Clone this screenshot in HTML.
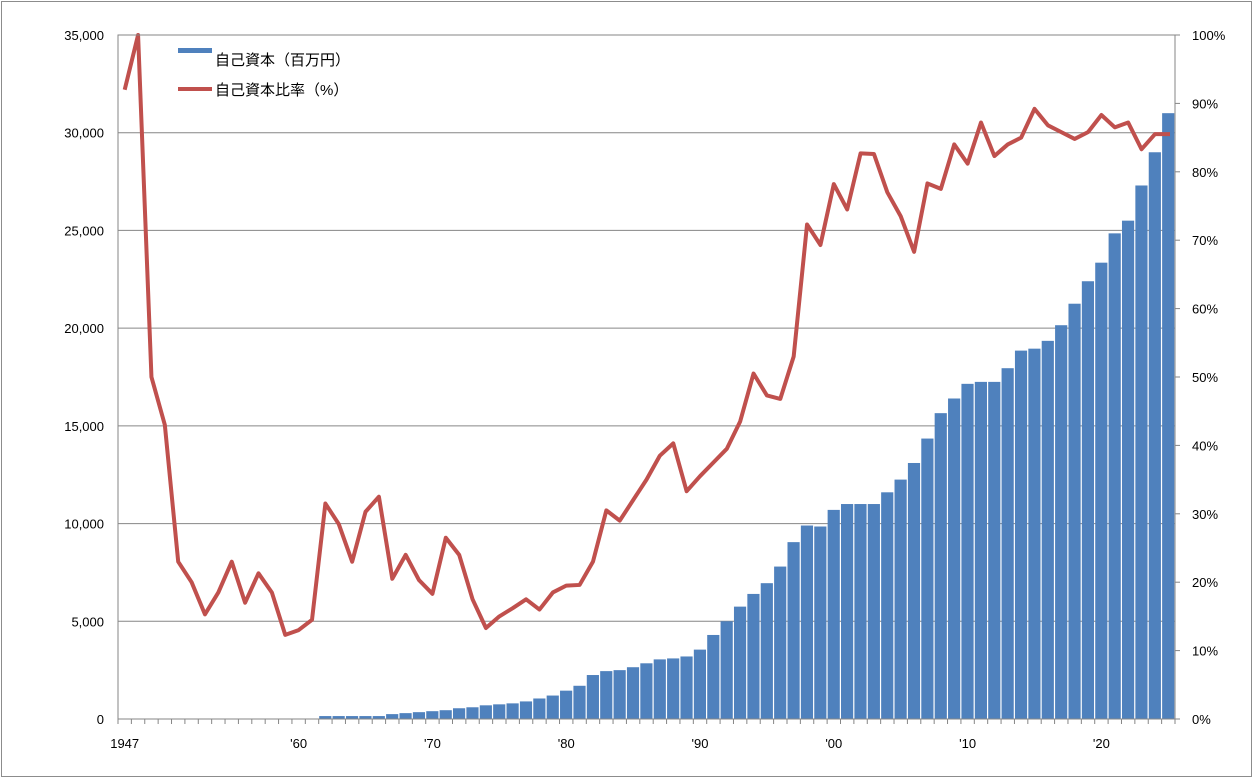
<!DOCTYPE html>
<html><head><meta charset="utf-8"><style>
body{margin:0;background:#fff}
svg{display:block;font-family:"Liberation Sans","Noto Sans CJK JP",sans-serif}
</style></head><body>
<svg id="chart" width="1254" height="780">
<rect x="1.5" y="1.5" width="1250" height="775" fill="#fff" stroke="#8c8c8c"/>
<g id="grid"></g><g id="bars"></g><g id="line"></g><g id="axes"></g>
<g>
<rect x="178" y="48" width="34" height="5" fill="#4f81bd"/>
<text x="215" y="65" font-size="15" fill="#000">自己資本（百万円）</text>
<line x1="178" y1="89" x2="212" y2="89" stroke="#c0504d" stroke-width="4"/>
<text x="215" y="95" font-size="15" fill="#000">自己資本比率（%）</text>
</g>
</svg>
<script>
const startYear = 1947;
const equity = [0,0,0,0,0,0,0,0,0,0,0,0,0,0,0,
150,150,150,150,150,250,300,350,400,450,550,600,700,750,800,900,1050,1200,1450,1700,2250,2450,2500,2650,2850,3050,3100,3200,3550,4300,5000,5750,6400,6950,7800,9050,9900,9850,10700,11000,11000,11000,11600,12250,13100,14350,15650,16400,17150,17250,17250,17950,18850,18950,19350,20150,21250,22400,23350,24850,25500,27300,29000,31000];
const ratio = [92,100,50,43,23,20,15.3,18.5,23,17,21.3,18.5,12.3,13,14.5,31.5,28.5,23,30.3,32.5,20.5,24,20.3,18.3,26.5,24,17.5,13.3,15,16.2,17.5,16,18.5,19.5,19.6,23,30.5,29,32,35,38.5,40.3,33.3,35.5,37.5,39.5,43.5,50.5,47.3,46.8,53,72.3,69.3,78.2,74.5,82.7,82.6,77,73.5,68.3,78.3,77.5,84,81.2,87.2,82.3,84,85,89.2,86.8,85.8,84.8,85.8,88.3,86.5,87.2,83.3,85.5,85.5];
const leftTicks = [0,5000,10000,15000,20000,25000,30000,35000];
const rightTicks = [0,10,20,30,40,50,60,70,80,90,100];
const xLabels = [[1947,"1947"],[1960,"'60"],[1970,"'70"],[1980,"'80"],[1990,"'90"],[2000,"'00"],[2010,"'10"],[2020,"'20"]];

const L=118,R=1175,T=35,B=719,N=equity.length,bw=(R-L)/N;
const yL=v=>B-(v/35000)*(B-T), yR=v=>B-(v/100)*(B-T), xc=i=>L+(i+0.5)*bw;
const NS="http://www.w3.org/2000/svg";
function mk(tag,attrs,parent){const e=document.createElementNS(NS,tag);for(const k in attrs)e.setAttribute(k,attrs[k]);document.getElementById(parent).appendChild(e);return e;}
leftTicks.forEach(v=>{
 if(v>0&&v<35000){const g=mk('line',{x1:L,x2:R,y1:yL(v),y2:yL(v),stroke:'#868686','stroke-width':1},'grid');
 
 }
 const t=mk('text',{x:104,y:yL(v)+5,'text-anchor':'end','font-size':13,fill:'#000'},'axes');t.textContent=v.toLocaleString('en-US');
 
 
});
rightTicks.forEach(v=>{
 const t=mk('text',{x:1192,y:yR(v)+5,'font-size':13,fill:'#000'},'axes');t.textContent=v+'%';
 
 
 const m=mk('line',{x1:R,x2:R+5,y1:yR(v),y2:yR(v),stroke:'#868686'},'axes');
 
 
});
equity.forEach((v,i)=>{ if(v<=0)return;
 const r=mk('rect',{x:L+i*bw+0.5,y:yL(v),width:bw-1.2,height:B-yL(v),fill:'#4f81bd'},'bars');
 
 
});
const pts=ratio.map((v,i)=>xc(i)+','+yR(v));
pts.push(R-5+','+yR(ratio[N-1]));
const pl=mk('polyline',{points:pts.join(' '),fill:'none',stroke:'#c0504d','stroke-width':4,'stroke-linejoin':'round'},'line');


const ax=mk('path',{d:`M${L},${T}H${R}V${B}H${L}Z`,fill:'none',stroke:'#868686'},'axes');


for(let i=0;i<=N;i++){const m=mk('line',{x1:L+i*bw,x2:L+i*bw,y1:B,y2:B+5,stroke:'#868686'},'axes');
 
 }
xLabels.forEach(([y,s])=>{
 const t=mk('text',{x:xc(y-startYear),y:748,'text-anchor':'middle','font-size':13,fill:'#000'},'axes');t.textContent=s;
 
 
});
</script>
</body></html>
